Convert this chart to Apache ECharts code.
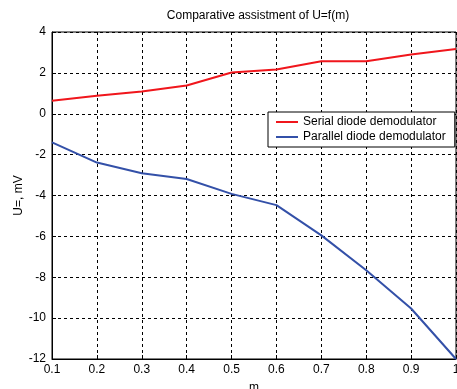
<!DOCTYPE html>
<html>
<head>
<meta charset="utf-8">
<script src="https://cdn.jsdelivr.net/npm/echarts@6/dist/echarts.min.js"></script>
<style>
  html, body { margin: 0; padding: 0; background: #fff; }
  #chart { width: 457px; height: 389px; }
</style>
</head>
<body>
<div id="chart"></div>
<script>
  // values
  const mValues = [0.1, 0.2, 0.3, 0.4, 0.5, 0.6, 0.7, 0.8, 0.9, 1.0]
  const serialU = [0.64, 0.88, 1.09, 1.38, 2.02, 2.16, 2.57, 2.57, 2.9, 3.17]
  const parallelU = [-1.4, -2.39, -2.91, -3.19, -3.92, -4.47, -5.95, -7.66, -9.53, -12.0]

  const pairs = (xs, ys) => xs.map((x, i) => [x, ys[i]])

  let mychart = echarts.init(document.getElementById('chart'))
  let axisFont = {color: '#000', fontFamily: 'Liberation Sans, Arial', fontSize: 12}
  let option = {
    animation: false,
    backgroundColor: '#fff',
    title: {
      text: 'Comparative assistment of U=f(m)',
      left: 253,
      top: 5,
      textAlign: 'center',
      textStyle: {color: '#000', fontWeight: 'normal', fontSize: 12, fontFamily: 'Liberation Sans, Arial'}
    },
    grid: {
      left: 52, right: 1, top: 32, bottom: 30,
      outerBoundsMode: 'none',
      show: true,
      borderColor: '#000',
      borderWidth: 1,
      backgroundColor: 'transparent'
    },
    legend: {
      orient: 'vertical',
      left: 268,
      top: 112,
      padding: [4, 9, 4, 8],
      itemGap: 3,
      itemWidth: 22,
      itemHeight: 2,
      borderColor: '#000',
      borderWidth: 1,
      backgroundColor: '#fff',
      borderRadius: 0,
      icon: 'rect',
      textStyle: {color: '#000', fontSize: 12, fontFamily: 'Liberation Sans, Arial'},
      data: ['Serial diode demodulator', 'Parallel diode demodulator']
    },
    xAxis: {
      type: 'value',
      min: 0.1,
      max: 1,
      interval: 0.1,
      name: 'm',
      nameLocation: 'middle',
      nameGap: 23,
      nameMoveOverlap: false,
      nameTextStyle: axisFont,
      axisLine: {onZero: false, lineStyle: {color: '#000', width: 1}},
      axisTick: {inside: true, length: 4, lineStyle: {color: '#000'}},
      axisLabel: Object.assign({margin: 5, formatter: v => +v.toFixed(1) + ''}, axisFont),
      splitLine: {show: true, lineStyle: {color: '#000', type: [3, 3], width: 1}}
    },
    yAxis: {
      type: 'value',
      min: -12,
      max: 4,
      interval: 2,
      name: 'U=, mV',
      nameLocation: 'middle',
      nameGap: 27,
      nameMoveOverlap: false,
      nameTextStyle: axisFont,
      axisLine: {show: true, lineStyle: {color: '#000', width: 1}},
      axisTick: {show: true, inside: true, length: 4, lineStyle: {color: '#000'}},
      axisLabel: Object.assign({margin: 6}, axisFont),
      splitLine: {show: true, lineStyle: {color: '#000', type: [3, 3], width: 1}}
    },
    series: [
      {
        name: 'Serial diode demodulator',
        type: 'line',
        symbol: 'none',
        lineStyle: {color: '#f0161c', width: 2},
        itemStyle: {color: '#f0161c'},
        data: pairs(mValues, serialU)
      },
      {
        name: 'Parallel diode demodulator',
        type: 'line',
        symbol: 'none',
        lineStyle: {color: '#3350a8', width: 2},
        itemStyle: {color: '#3350a8'},
        data: pairs(mValues, parallelU)
      }
    ]
  }
  mychart.setOption(option)
</script>
</body>
</html>
